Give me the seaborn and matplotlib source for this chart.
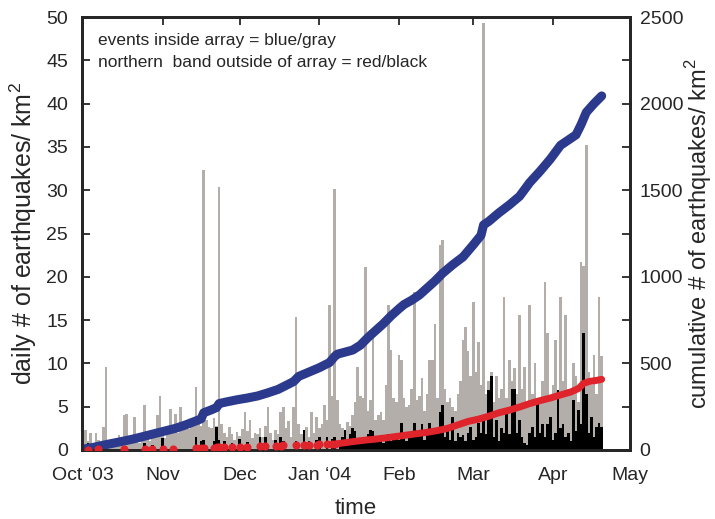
import numpy as np
import matplotlib
matplotlib.use('Agg')
import matplotlib.pyplot as plt
import seaborn as sns

# daily counts, day 0 = 1 Oct 2003
gray_daily = [
    0.5, 2.3, 1.0, 2.0, 0.8, 2.0, 1.1, 0.7, 2.7, 9.6,
    0.4, 1.0, 0.6, 0.9, 1.7, 1.2, 4.0, 4.2, 1.5, 1.1,
    3.8, 1.0, 0.8, 1.5, 5.2, 1.3, 1.0, 1.6, 2.4, 4.0,
    6.2, 2.2, 1.4, 2.0, 4.7, 2.5, 4.2, 2.0, 5.0, 2.8,
    2.6, 2.4, 3.0, 2.9, 7.3, 3.0, 2.8, 32.3, 3.5, 2.6,
    2.5, 3.7, 2.8, 30.4, 3.0, 2.0, 1.5, 2.6, 1.8, 1.2,
    2.1, 1.6, 2.4, 4.4, 2.2, 3.5, 1.4, 2.0, 1.8, 2.5,
    1.5, 2.8, 5.0, 2.0, 1.2, 2.3, 1.8, 4.4, 5.0, 2.5,
    3.3, 1.5, 5.0, 15.4, 3.0, 1.8, 2.2, 2.7, 1.5, 4.4,
    2.0, 3.8, 2.5, 3.0, 5.2, 3.5, 16.7, 6.2, 30.1, 5.8,
    3.0, 2.5, 2.0, 3.2, 2.8, 4.0, 5.5, 9.6, 6.2, 6.0,
    21.1, 4.5, 5.8, 13.3, 3.5, 4.0, 4.4, 3.5, 7.5, 16.7,
    11.5, 6.0, 5.5, 11.0, 10.4, 6.0, 5.0, 5.2, 7.0, 18.3,
    5.8, 6.2, 8.3, 4.5, 6.5, 10.4, 10.4, 14.6, 6.0, 23.7,
    24.3, 7.0, 5.5, 6.0, 5.0, 4.5, 6.5, 8.0, 12.7, 14.2,
    11.4, 8.5, 17.1, 9.0, 12.5, 7.5, 49.3, 6.5, 8.0, 9.0,
    5.5, 8.5, 6.0, 7.0, 17.7, 6.0, 10.4, 8.0, 9.5, 6.5,
    15.6, 7.0, 9.6, 5.0, 16.7, 6.5, 10.0, 6.0, 5.5, 8.0,
    19.4, 13.5, 6.0, 7.5, 12.7, 6.0, 17.7, 8.0, 15.6, 7.0,
    6.5, 10.0, 8.5, 5.5, 21.7, 21.3, 35.2, 9.0, 7.5, 11.0,
    6.5, 17.7, 10.8,
]
black_daily = [
    0, 0, 0.8, 0, 0, 0, 0.7, 0, 0, 0,
    0, 0, 0, 0, 0, 0, 0.5, 0, 0, 0,
    0, 0, 0, 0, 0.8, 0, 0, 0.6, 0, 0,
    0, 1.4, 0, 0, 0, 0.5, 0, 0, 0, 0,
    0, 0, 0, 0, 1.5, 0, 1.0, 1.2, 0, 0,
    0, 1.0, 2.7, 1.2, 0, 1.0, 0, 0, 0.8, 0,
    0, 1.3, 0, 0, 0.9, 0, 0, 0, 0, 1.5,
    0, 1.5, 0, 0, 0, 1.2, 0, 1.5, 1.0, 0,
    0, 0, 0, 1.0, 0, 0, 2.3, 0, 1.0, 0,
    0, 1.2, 1.5, 0, 0, 1.5, 0, 1.3, 1.5, 0,
    0.8, 1.5, 2.3, 1.0, 1.8, 2.5, 2.2, 1.2, 0.8, 1.5,
    1.0, 1.8, 2.3, 2.2, 1.0, 1.5, 1.7, 0.8, 1.2, 1.8,
    1.0, 1.9, 1.5, 1.2, 3.1, 1.8, 1.0, 2.0, 1.5, 3.1,
    1.5, 2.2, 3.0, 1.2, 2.0, 3.1, 1.9, 1.8, 2.5, 4.4,
    5.2, 1.5, 2.6, 1.2, 3.8, 1.0, 2.0, 1.5, 1.7, 1.0,
    2.0, 2.6, 1.2, 1.5, 3.1, 2.0, 3.5, 1.8, 6.9, 8.5,
    1.5, 3.5, 1.0, 2.5, 2.0, 4.2, 1.8, 7.1, 7.0, 2.0,
    3.5, 1.5, 0.8, 0.6, 2.0, 2.6, 1.5, 5.4, 2.0, 3.0,
    1.5, 3.0, 3.8, 1.2, 2.0, 6.9, 2.5, 3.0, 1.5, 2.0,
    1.0, 5.8, 2.2, 4.6, 3.0, 13.5, 6.5, 2.0, 3.8, 1.5,
    2.7, 3.1, 2.7,
]

# cumulative curves
blue_day = [0, 4, 8, 12, 16, 20, 24, 28, 32, 36, 40, 44, 46, 47, 50, 52, 53, 56, 60, 64,
            68, 72, 76, 80, 82, 84, 88, 92, 96, 98, 99, 102, 105, 108, 111, 114, 117, 120,
            123, 125, 128, 131, 134, 137, 140, 144, 148, 152, 155, 156, 158, 162, 166, 170,
            174, 178, 182, 186, 189, 192, 194, 196, 199, 202]
blue_cum = [5, 15, 28, 40, 52, 65, 80, 95, 110, 125, 145, 168, 180, 215, 232, 245, 268, 278, 290, 300,
            312, 330, 350, 380, 395, 425, 450, 475, 505, 540, 553, 565, 577, 605, 650, 690, 730, 775,
            815, 840, 865, 895, 935, 975, 1020, 1070, 1115, 1185, 1240, 1300, 1320, 1370, 1415, 1465,
            1545, 1610, 1680, 1760, 1790, 1820, 1880, 1950, 2000, 2045]

red_dot_day = [2, 6, 16, 24, 27, 31, 35, 44, 46, 47, 51, 52, 53, 55, 58, 61, 64, 69, 71, 75,
               77, 78, 83, 86, 88, 91, 92, 95, 97, 98]
red_dot_cum = [2, 3, 4, 5, 6, 7, 8, 10, 11, 12, 13, 15, 16, 17, 18, 19, 20, 22, 23, 24,
               25, 26, 27, 29, 30, 31, 32, 33, 34, 35]
red_day = [99, 102, 106, 110, 114, 118, 122, 126, 130, 134, 138, 142, 146, 150, 154, 158,
           162, 166, 170, 174, 178, 182, 186, 190, 193, 195, 197, 200, 202]
red_cum = [36, 42, 50, 57, 63, 70, 78, 86, 94, 102, 112, 125, 145, 165, 178, 195,
           215, 230, 248, 268, 285, 300, 318, 335, 355, 385, 395, 402, 408]

month_pos = [0, 31, 61, 92, 123, 152, 183, 213]
month_lbl = ['Oct \u201803', 'Nov', 'Dec', 'Jan \u201804', 'Feb', 'Mar', 'Apr', 'May']

sns.set_style('ticks')
plt.rcParams['font.family'] = ['Liberation Sans', 'DejaVu Sans']
plt.rcParams['mathtext.fontset'] = 'custom'
plt.rcParams['mathtext.rm'] = 'Liberation Sans'

days = np.arange(len(gray_daily))
gray_c = '#b3aeaa'
blue_c = '#2b3a8c'
red_c = '#e0242b'

fig = plt.figure(figsize=(7.15, 5.19), dpi=100)
ax = fig.add_axes([0.1147, 0.133, 0.7663, 0.834])

sns.histplot(x=days, weights=gray_daily, discrete=True, shrink=1.0, color=gray_c,
             alpha=1, linewidth=0, ax=ax)
sns.histplot(x=days, weights=black_daily, discrete=True, shrink=1.0, color='black',
             alpha=1, linewidth=0, ax=ax)

ax.set_xlim(-0.4, 213)
ax.set_ylim(0, 50)
ax.set_yticks(range(0, 51, 5))
ax.set_xticks(month_pos)
ax.set_xticklabels(month_lbl)
ax.tick_params(axis='both', direction='in', length=6, width=1.3, labelsize=14)
ax.tick_params(axis='x', top=True, pad=12)
ax.tick_params(axis='y', pad=10)
ax.set_xlabel('time', fontsize=16, labelpad=10)
ax.set_ylabel('daily # of earthquakes/ km$^2$', fontsize=18, labelpad=5)
for s in ax.spines.values():
    s.set_linewidth(2)

ax.text(0.03, 0.935, 'events inside array = blue/gray', transform=ax.transAxes, fontsize=12.5)
ax.text(0.03, 0.885, 'northern  band outside of array = red/black', transform=ax.transAxes, fontsize=12.5)

ax2 = ax.twinx()
sns.lineplot(x=blue_day, y=blue_cum, color=blue_c, linewidth=6.5, ax=ax2,
             solid_capstyle='round', solid_joinstyle='round')
sns.lineplot(x=red_day, y=red_cum, color=red_c, linewidth=5, ax=ax2,
             solid_capstyle='round', solid_joinstyle='round')
sns.scatterplot(x=red_dot_day, y=red_dot_cum, color=red_c, s=34, linewidth=0, ax=ax2, zorder=5)
ax2.set_ylim(0, 2500)
ax2.set_yticks(range(0, 2501, 500))
ax2.set_yticks(range(0, 2501, 250), minor=True)
ax2.tick_params(axis='y', which='both', direction='in', length=6, width=1.3, labelsize=14, pad=7)
ax2.set_ylabel('cumulative # of earthquakes/ km$^2$', fontsize=17, labelpad=0)
for s in ax2.spines.values():
    s.set_linewidth(2)

fig.savefig('out.png', dpi=100)
